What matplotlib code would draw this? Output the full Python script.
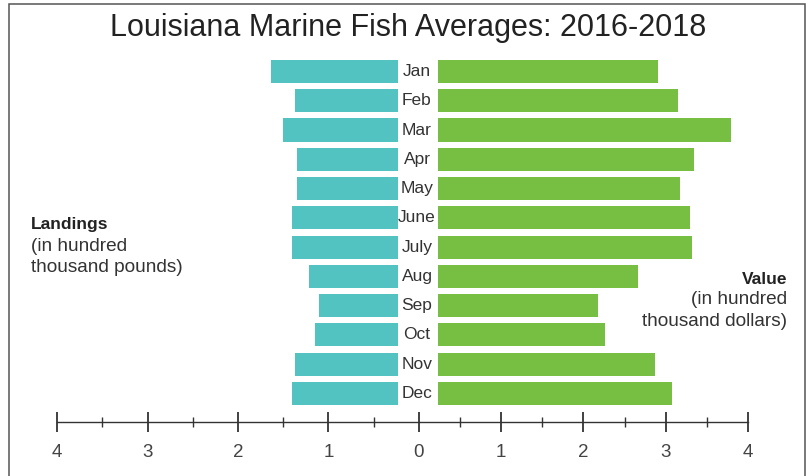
"""Louisiana marine fish averages 2016-2018, butterfly bar chart."""
import matplotlib
matplotlib.use('Agg')

import matplotlib.pyplot as plt
import matplotlib.transforms as mtransforms
from matplotlib.patches import Rectangle

months = ['Jan', 'Feb', 'Mar', 'Apr', 'May', 'June',
          'July', 'Aug', 'Sep', 'Oct', 'Nov', 'Dec']

# hundred thousand pounds
landings = [1.64, 1.37, 1.50, 1.35, 1.35, 1.40,
            1.40, 1.22, 1.11, 1.15, 1.37, 1.40]

# hundred thousand dollars
value = [2.91, 3.15, 3.79, 3.34, 3.17, 3.30,
         3.32, 2.66, 2.18, 2.26, 2.87, 3.08]

ticks_left = [1, 2, 3, 4]
ticks_right = [0, 1, 2, 3, 4]
minor = [0.5, 1.5, 2.5, 3.5]

teal = '#52c3c0'
green = '#76bf43'
ink = '#333333'
gap = 0.23

plt.rcParams['font.family'] = ['Liberation Sans', 'DejaVu Sans']

W, H = 812, 476
fig = plt.figure(figsize=(W / 100, H / 100), dpi=100)

bottom = 1 - 422 / H
height = 372 / H
axl = fig.add_axes([57 / W, bottom, (419 - 57) / W, height])
axr = fig.add_axes([419 / W, bottom, (748 - 419) / W, height])

ypos = list(range(len(months)))

axl.barh(
    ypos,
    [v - gap for v in landings],
    left=gap,
    height=0.79,
    color=teal,
    linewidth=0,
)
axr.barh(
    ypos,
    [v - gap for v in value],
    left=gap,
    height=0.79,
    color=green,
    linewidth=0,
)

axl.set_xlim(4, 0)
axr.set_xlim(0, 4)

for ax, ticks in ((axl, ticks_left), (axr, ticks_right)):
    ax.set_ylim(11.975, -0.735)
    ax.set_yticks([])
    for side in ('top', 'left', 'right'):
        ax.spines[side].set_visible(False)
    ax.spines['bottom'].set_color(ink)
    ax.spines['bottom'].set_linewidth(1.0)
    ax.set_xticks(ticks)
    ax.set_xticks(minor, minor=True)
    ax.tick_params(axis='x', which='major', direction='inout', length=15,
                   width=1.3, color=ink, labelsize=13.5, labelcolor='#444444',
                   pad=8)
    ax.tick_params(axis='x', which='minor', direction='inout', length=7,
                   width=1.0, color=ink)
    ax.patch.set_alpha(0)

# month names between the two halves
trans = mtransforms.blended_transform_factory(fig.transFigure, axl.transData)
for i, m in enumerate(months):
    axl.text(417 / W, i, m, transform=trans, ha='center', va='center',
             fontsize=12.5, color=ink, clip_on=False)

fig.text(408 / W, 1 - 28 / H, 'Louisiana Marine Fish Averages: 2016-2018',
         ha='center', va='center', fontsize=22, color='#222222')

# side captions, one text per line
fig.text(31 / W, 1 - 224 / H, 'Landings', ha='left', va='center',
         fontsize=12.5, fontweight='bold', color='#222222')
fig.text(31 / W, 1 - 246 / H, '(in hundred', ha='left', va='center',
         fontsize=13.7, color=ink)
fig.text(31 / W, 1 - 268 / H, 'thousand pounds)', ha='left', va='center',
         fontsize=13.7, color=ink)

fig.text(787 / W, 1 - 279 / H, 'Value', ha='right', va='center',
         fontsize=12.5, fontweight='bold', color='#222222')
fig.text(787 / W, 1 - 300 / H, '(in hundred', ha='right', va='center',
         fontsize=13.7, color=ink)
fig.text(787 / W, 1 - 322 / H, 'thousand dollars)', ha='right', va='center',
         fontsize=13.7, color=ink)

# outer frame, open at the bottom edge
fig.add_artist(Rectangle(
    (9.5 / W, -0.05), (805 - 9.5) / W, 1.05 - 4 / H,
    transform=fig.transFigure, fill=False, edgecolor='#555555',
    linewidth=1.1,
))

fig.savefig('out.png', dpi=100)
plt.close(fig)
